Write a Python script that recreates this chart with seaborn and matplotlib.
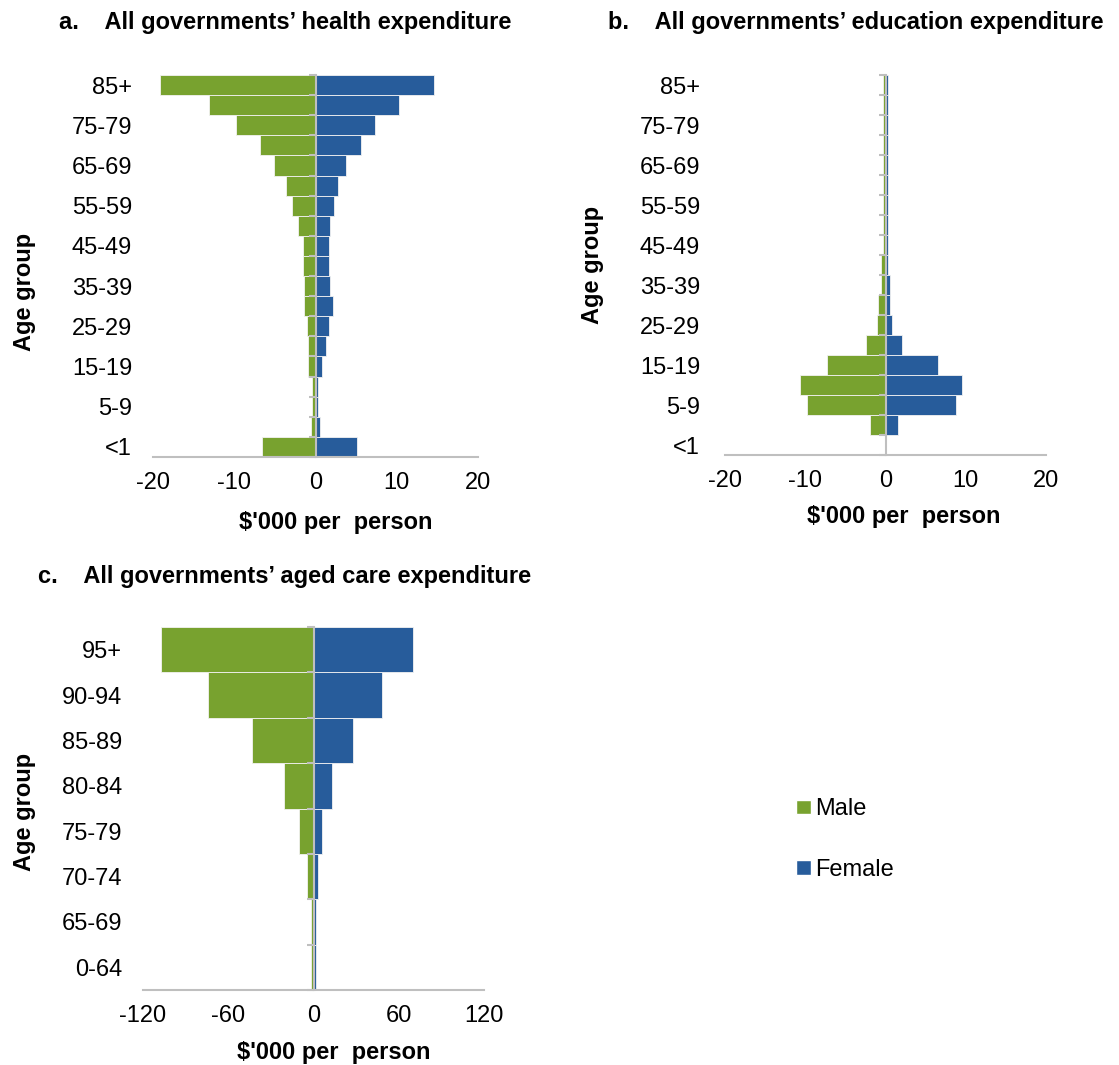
import matplotlib
matplotlib.use('Agg')
import matplotlib.pyplot as plt
from matplotlib.patches import Patch
import numpy as np
import pandas as pd
import seaborn as sns

# age groups, top of the pyramid first
ages_5yr = ['85+', '80-84', '75-79', '70-74', '65-69', '60-64', '55-59', '50-54',
            '45-49', '40-44', '35-39', '30-34', '25-29', '20-24', '15-19', '10-14',
            '5-9', '1-4', '<1']
ages_aged = ['95+', '90-94', '85-89', '80-84', '75-79', '70-74', '65-69', '0-64']

# $'000 per person
health_male = [19.1, 13.1, 9.8, 6.8, 5.1, 3.6, 2.9, 2.1, 1.6, 1.6, 1.4, 1.4, 1.1, 0.9, 0.9, 0.4, 0.4, 0.6, 6.6]
health_female = [14.6, 10.3, 7.3, 5.6, 3.8, 2.8, 2.3, 1.8, 1.6, 1.6, 1.8, 2.1, 1.6, 1.3, 0.8, 0.3, 0.3, 0.6, 5.1]

edu_male = [0.3, 0.3, 0.3, 0.3, 0.3, 0.3, 0.3, 0.3, 0.3, 0.6, 0.6, 0.9, 1.1, 2.4, 7.3, 10.6, 9.8, 1.9, 0.0]
edu_female = [0.3, 0.3, 0.3, 0.3, 0.3, 0.3, 0.3, 0.3, 0.3, 0.3, 0.6, 0.6, 0.8, 2.1, 6.5, 9.5, 8.8, 1.6, 0.0]

aged_male = [107, 74, 43, 21, 10, 4.9, 2.0, 2.0]
aged_female = [70, 48, 28, 13, 6, 3.1, 1.6, 1.6]

GREEN = '#78A22F'
BLUE = '#275C9B'
GREY = '#BFBFBF'
FS = 17

sns.set_style('white')
plt.rcParams['font.family'] = ['Liberation Sans', 'DejaVu Sans']
plt.rcParams.update({'text.color': 'black', 'axes.labelcolor': 'black',
                     'xtick.color': 'black', 'ytick.color': 'black'})


def long_frame(ages, male, female):
    return pd.DataFrame({
        'age': ages * 2,
        'sex': ['Male'] * len(ages) + ['Female'] * len(ages),
        'value': [-v for v in male] + list(female),
    })


def pyramid(ax, ages, male, female, xlim, xticks, every, ypad):
    df = long_frame(ages, male, female)
    sns.barplot(data=df, x='value', y='age', hue='sex', order=ages,
                hue_order=['Male', 'Female'], palette={'Male': GREEN, 'Female': BLUE},
                dodge=False, width=1.0, errorbar=None, saturation=1,
                edgecolor='#F2F2F2', linewidth=0.6, legend=False, ax=ax)
    ax.set_xlim(*xlim)
    ax.set_xticks(xticks)
    ax.set_xticklabels([str(t) for t in xticks])
    idx = list(range(0, len(ages), every))
    ax.set_yticks(idx)
    ax.set_yticklabels([ages[i] for i in idx])
    ax.tick_params(axis='y', length=0, pad=ypad, labelsize=FS)
    ax.tick_params(axis='x', length=0, pad=11, labelsize=FS)
    for s in ['left', 'top', 'right']:
        ax.spines[s].set_visible(False)
    ax.spines['bottom'].set_color(GREY)
    ax.spines['bottom'].set_linewidth(1.5)

    # vertical axis line at zero with ticks at the category boundaries
    sec = ax.secondary_yaxis(0.5)
    sec.set_yticks(np.arange(-0.5, len(ages), 1.0))
    sec.set_yticklabels([])
    sec.tick_params(length=5, width=1.5, color=GREY, direction='in',
                    labelleft=False, labelright=False)
    for sp in sec.spines.values():
        sp.set_color(GREY)
        sp.set_linewidth(1.5)
    sec.set_zorder(5)

    ax.set_xlabel("$'000 per  person", fontsize=FS, fontweight='bold', va='center')
    ax.set_ylabel('Age group', fontsize=FS, fontweight='bold', va='center')


W, H = 1119, 1065
fig = plt.figure(figsize=(W / 100, H / 100), dpi=100)

ax_a = fig.add_axes([153 / W, 1 - 457 / H, 325 / W, 382 / H])
ax_b = fig.add_axes([725 / W, 1 - 455 / H, 321 / W, 380 / H])
ax_c = fig.add_axes([143 / W, 1 - 990 / H, 341 / W, 363 / H])

pyramid(ax_a, ages_5yr, health_male, health_female, (-20, 20), [-20, -10, 0, 10, 20], 2, 15)
pyramid(ax_b, ages_5yr, edu_male, edu_female, (-20, 20), [-20, -10, 0, 10, 20], 2, 18)
pyramid(ax_c, ages_aged, aged_male, aged_female, (-120, 120), [-120, -60, 0, 60, 120], 1, 15)

ax_a.xaxis.set_label_coords(336 / W, 1 - 522 / H, transform=fig.transFigure)
ax_b.xaxis.set_label_coords(904 / W, 1 - 517 / H, transform=fig.transFigure)
ax_c.xaxis.set_label_coords(334 / W, 1 - 1052 / H, transform=fig.transFigure)
ax_a.yaxis.set_label_coords(25 / W, 1 - 292 / H, transform=fig.transFigure)
ax_b.yaxis.set_label_coords(593 / W, 1 - 265 / H, transform=fig.transFigure)
ax_c.yaxis.set_label_coords(25 / W, 1 - 812 / H, transform=fig.transFigure)

fig.text(59 / W, 1 - 23 / H, 'a.    All governments\u2019 health expenditure',
         fontsize=FS, fontweight='bold', ha='left', va='center')
fig.text(608 / W, 1 - 23 / H, 'b.    All governments\u2019 education expenditure',
         fontsize=FS, fontweight='bold', ha='left', va='center')
fig.text(38 / W, 1 - 577 / H, 'c.    All governments\u2019 aged care expenditure',
         fontsize=FS, fontweight='bold', ha='left', va='center')

handles = [Patch(facecolor=GREEN, label='Male'), Patch(facecolor=BLUE, label='Female')]
fig.legend(handles=handles, loc='upper left', bbox_to_anchor=(796 / W, 1 - 798 / H),
           frameon=False, fontsize=FS, handlelength=0.62, handleheight=0.55,
           handletextpad=0.2, labelspacing=1.65, borderaxespad=0, borderpad=0)

fig.savefig('out.png', dpi=100)
